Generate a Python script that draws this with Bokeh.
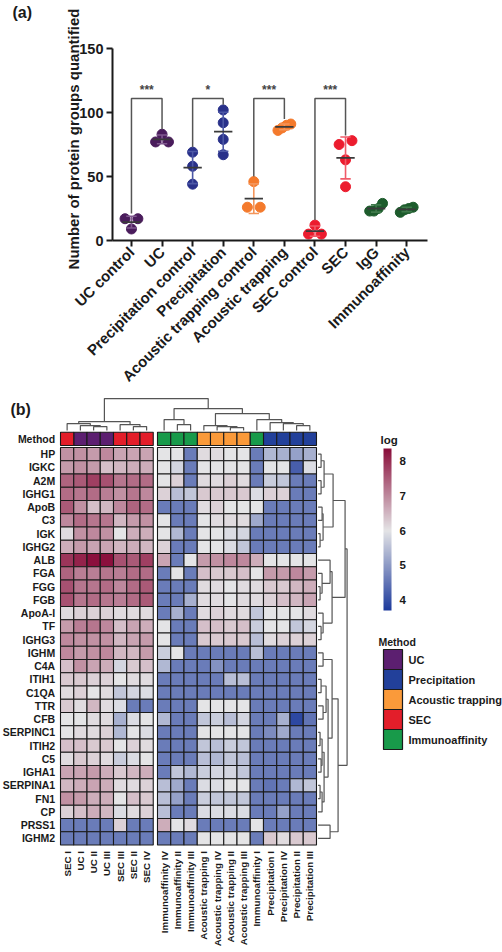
import math
import numpy as np
from bokeh.plotting import figure
from bokeh.models import Range1d, FixedTicker, ColumnDataSource, LinearColorMapper, ColorBar
from bokeh.embed import file_html
from bokeh.resources import INLINE
from bokeh.core.properties import value

FONT = "Liberation Sans"

# ---------------- Panel (a) data ----------------
groups = ["UC control", "UC", "Precipitation control", "Precipitation",
          "Acoustic trapping control", "Acoustic trapping", "SEC control", "SEC",
          "IgG", "Immunoaffinity"]
uc_control = [17, 17, 9]
uc = [83, 77, 77]
precip_control = [69, 58, 44]
precip = [102, 92, 79, 67]
at_control = [46, 26, 26]
at_trap = [91, 90, 88, 86]
sec_control = [12, 5, 5]
sec = [78, 75, 63, 42]
igg = [23, 25, 29, 23]
immuno = [22, 25, 26, 24]
group_values = [uc_control, uc, precip_control, precip, at_control, at_trap,
                sec_control, sec, igg, immuno]
dot_colors = ["#4a1c5c", "#4a1c5c", "#29318a", "#29318a", "#f47a2c", "#f47a2c",
              "#ec1c2e", "#ec1c2e", "#1d5c2c", "#1d5c2c"]
bar_colors = ["#80598f", "#80598f", "#4d58a6", "#4d58a6", "#f4955a", "#f4955a",
              "#f05a68", "#f05a68", "#3f7a4b", "#3f7a4b"]
comparisons = [(0, 1, "***"), (2, 3, "*"), (4, 5, "***"), (6, 7, "***")]
bracket_level = 111
y_ticks = [0, 50, 100, 150]
y_max = 150
y_title = "Number of protein groups quantified"

# ---------------- Panel (b) data ----------------
proteins = ["HP", "IGKC", "A2M", "IGHG1", "ApoB", "C3", "IGK", "IGHG2", "ALB", "FGA",
            "FGG", "FGB", "ApoA-I", "TF", "IGHG3", "IGHM", "C4A", "ITIH1", "C1QA", "TTR",
            "CFB", "SERPINC1", "ITIH2", "C5", "IGHA1", "SERPINA1", "FN1", "CP", "PRSS1", "IGHM2"]
samples_left = ["SEC I", "UC I", "UC II", "UC III", "SEC III", "SEC II", "SEC IV"]
samples_right = ["Immunoaffinity IV", "Immunoaffinity II", "Immunoaffinity III",
                 "Acoustic trapping I", "Acoustic trapping IV", "Acoustic trapping II",
                 "Acoustic trapping III", "Immunoaffinity I", "Precipitation I",
                 "Precipitation IV", "Precipitation II", "Precipitation III"]
methods_left = ["SEC", "UC", "UC", "UC", "SEC", "SEC", "SEC"]
methods_right = ["Immunoaffinity"] * 3 + ["Acoustic trapping"] * 4 + ["Immunoaffinity"] + ["Precipitation"] * 4
method_order = ["UC", "Precipitation", "Acoustic trapping", "SEC", "Immunoaffinity"]
method_colors = ["#5c1f70", "#22409a", "#fa9a3a", "#e31e2a", "#189a4a"]

log_left = [
    [6.9, 6.9, 6.8, 7.0, 6.7, 6.7, 6.7],
    [6.8, 6.9, 6.8, 6.4, 6.5, 6.6, 6.6],
    [7.4, 7.5, 7.8, 7.6, 7.2, 7.3, 7.3],
    [7.3, 7.2, 7.3, 7.1, 6.9, 7.2, 7.0],
    [7.5, 6.9, 6.4, 6.5, 7.0, 7.4, 7.3],
    [7.0, 7.3, 7.2, 7.2, 6.5, 6.8, 6.9],
    [6.1, 6.9, 7.0, 6.9, 6.0, 6.6, 6.6],
    [6.6, 6.8, 6.7, 6.7, 6.5, 6.6, 6.5],
    [7.9, 8.1, 8.3, 8.3, 7.6, 7.5, 7.8],
    [7.4, 7.1, 7.1, 7.2, 7.1, 7.3, 7.3],
    [7.6, 7.2, 7.2, 7.3, 7.0, 7.3, 7.5],
    [7.6, 7.2, 7.3, 7.2, 7.1, 7.3, 7.5],
    [6.1, 6.2, 6.2, 6.2, 6.1, 6.1, 6.1],
    [6.8, 7.1, 7.2, 7.0, 6.4, 6.7, 6.6],
    [7.0, 6.9, 6.9, 6.9, 6.5, 6.7, 6.8],
    [7.0, 6.8, 6.9, 7.0, 6.5, 6.5, 6.8],
    [6.4, 6.9, 6.7, 6.6, 5.8, 6.3, 6.4],
    [6.3, 6.3, 6.2, 6.2, 6.0, 6.1, 6.1],
    [6.1, 6.2, 6.0, 6.1, 5.6, 5.8, 5.9],
    [6.3, 6.1, 6.5, 6.1, 5.9, 4.6, 4.6],
    [6.0, 6.0, 6.1, 6.1, 5.3, 5.9, 6.0],
    [6.0, 6.1, 6.1, 6.2, 5.4, 6.0, 5.9],
    [6.4, 6.4, 6.3, 6.3, 6.0, 6.2, 6.1],
    [6.1, 6.3, 6.2, 6.1, 5.7, 5.9, 6.0],
    [6.7, 6.7, 6.8, 6.6, 6.3, 6.5, 6.6],
    [6.5, 6.6, 6.7, 6.6, 6.1, 6.1, 6.2],
    [6.9, 6.8, 6.6, 6.6, 6.0, 6.4, 6.3],
    [6.2, 6.4, 6.6, 6.5, 5.9, 6.1, 6.2],
    [4.6, 4.6, 4.6, 4.6, 6.2, 4.6, 4.6],
    [4.6, 4.6, 4.6, 4.6, 4.6, 4.6, 4.6],
]
log_right = [
    [6.0, 6.0, 4.6, 6.1, 6.1, 6.0, 6.0, 4.6, 5.4, 5.3, 5.1, 5.3],
    [6.0, 5.8, 4.6, 6.0, 6.0, 6.0, 6.0, 4.6, 6.0, 6.0, 4.2, 5.9],
    [6.0, 6.2, 4.6, 6.1, 6.1, 6.2, 6.1, 4.6, 5.7, 5.6, 4.6, 4.6],
    [6.2, 5.5, 5.6, 6.3, 6.3, 6.3, 6.3, 5.9, 6.2, 6.2, 4.6, 4.6],
    [4.6, 4.6, 4.6, 6.1, 6.2, 6.0, 6.0, 6.0, 4.6, 4.6, 4.6, 4.6],
    [6.0, 4.6, 4.6, 6.0, 6.1, 6.1, 6.1, 5.2, 4.6, 4.6, 4.6, 4.6],
    [6.0, 5.4, 4.6, 6.0, 6.0, 5.9, 5.8, 4.6, 4.6, 4.6, 4.6, 4.6],
    [6.2, 4.6, 4.6, 6.0, 6.0, 5.9, 5.6, 4.6, 4.6, 4.6, 4.6, 4.6],
    [6.7, 4.6, 6.0, 6.8, 6.9, 7.0, 7.0, 6.6, 6.0, 6.0, 6.0, 6.0],
    [4.6, 6.0, 4.6, 6.4, 6.3, 6.3, 6.4, 6.0, 6.8, 6.8, 7.0, 6.8],
    [4.6, 4.6, 4.6, 6.1, 6.1, 6.0, 6.1, 6.1, 6.3, 6.3, 6.5, 6.6],
    [4.6, 4.6, 5.3, 6.1, 6.1, 6.0, 6.1, 6.1, 6.2, 6.4, 6.5, 6.7],
    [4.6, 5.3, 4.6, 6.1, 6.2, 6.1, 6.1, 5.6, 6.0, 6.0, 6.0, 6.1],
    [6.0, 4.6, 4.6, 6.4, 6.4, 6.3, 6.4, 5.7, 6.0, 6.0, 5.6, 5.8],
    [6.0, 4.6, 4.6, 6.3, 6.3, 6.3, 6.3, 5.5, 6.1, 6.2, 6.2, 6.2],
    [5.7, 6.0, 4.6, 4.6, 4.6, 4.6, 4.6, 5.5, 4.6, 4.6, 4.6, 4.6],
    [5.4, 4.6, 4.6, 4.6, 4.9, 4.6, 4.6, 4.6, 4.6, 4.6, 4.6, 4.6],
    [4.6, 4.6, 4.6, 4.6, 4.6, 5.5, 5.5, 4.6, 4.6, 4.6, 4.6, 4.6],
    [4.6, 4.6, 4.6, 4.6, 4.6, 4.6, 4.6, 4.6, 4.6, 4.6, 4.6, 4.6],
    [4.6, 4.6, 4.6, 6.0, 6.0, 6.0, 6.0, 4.6, 4.6, 4.6, 4.6, 4.6],
    [5.4, 4.6, 4.6, 5.6, 5.7, 5.5, 5.8, 4.6, 4.6, 5.3, 3.9, 4.5],
    [4.6, 4.6, 4.6, 6.0, 6.0, 6.0, 6.0, 4.6, 4.8, 5.2, 4.6, 4.6],
    [4.6, 4.6, 4.6, 5.6, 5.5, 5.7, 5.6, 4.6, 4.6, 4.6, 4.6, 4.6],
    [4.6, 4.6, 4.6, 5.5, 5.4, 5.6, 5.5, 4.6, 4.6, 4.6, 4.6, 4.6],
    [4.6, 5.6, 5.4, 5.7, 5.8, 5.8, 5.6, 4.6, 4.6, 4.6, 4.6, 4.6],
    [5.5, 5.2, 4.6, 5.9, 5.9, 6.0, 6.0, 4.6, 4.5, 4.6, 5.4, 5.6],
    [5.5, 5.1, 4.6, 5.7, 5.6, 5.6, 5.6, 4.6, 4.6, 4.6, 4.6, 4.6],
    [5.5, 4.6, 4.6, 5.9, 5.9, 5.9, 5.9, 4.6, 4.6, 5.1, 4.6, 4.6],
    [6.6, 6.0, 6.1, 4.6, 4.6, 4.6, 4.6, 6.0, 4.6, 4.6, 4.6, 4.6],
    [4.6, 4.6, 4.6, 6.0, 6.0, 6.0, 6.0, 4.6, 6.3, 6.1, 6.3, 6.3],
]
colorbar_ticks = [4, 5, 6, 7, 8]
color_low, color_high = 3.71, 8.35

# dendrograms: (child a, child b, merge height); new nodes numbered after leaves
col_merges = [(2, 3, 4), (1, 19, 5), (0, 20, 7), (5, 6, 4), (4, 22, 6), (21, 23, 9),
              (8, 9, 6), (7, 25, 11), (12, 13, 3), (11, 27, 4), (10, 28, 5),
              (17, 18, 5), (16, 30, 7), (15, 31, 8), (14, 32, 11), (29, 33, 17),
              (26, 34, 22), (24, 35, 32)]
row_merges = [(0, 1, 3), (2, 3, 3), (30, 31, 6), (4, 5, 4), (6, 7, 2), (33, 34, 5),
              (32, 35, 15), (10, 11, 2), (9, 37, 4), (8, 38, 12), (13, 14, 3),
              (12, 40, 5), (39, 41, 14), (36, 42, 27), (15, 16, 5), (17, 18, 3),
              (19, 20, 5), (45, 46, 8), (21, 22, 2), (23, 24, 3), (48, 49, 4),
              (25, 26, 2), (51, 27, 4), (50, 52, 6), (47, 53, 10), (44, 54, 14),
              (28, 29, 12), (55, 56, 20), (43, 57, 29)]

W = 502
HA = 396
HB = 952 - HA

# ======================= Panel (a) =======================
AX_LEFT, AX_RIGHT, AX_TOP, AX_BOTTOM = 112, 427, 48, 240   # page pixels of the axes box
X_LO, X_HI = -0.62, 9.68
px_x = (AX_RIGHT - AX_LEFT) / (X_HI - X_LO)
px_y = (AX_BOTTOM - AX_TOP) / y_max
pa = figure(width=W, height=HA,
            x_range=Range1d(X_LO - AX_LEFT / px_x, X_HI + (W - AX_RIGHT) / px_x),
            y_range=Range1d(-(HA - AX_BOTTOM) / px_y, y_max + AX_TOP / px_y),
            output_backend="svg", toolbar_location=None, title_location=None,
            min_border=0)
pa.grid.visible = False
pa.outline_line_color = None


def swarm_offsets(vals, thresh=6.0, spread=0.42):
    vals = np.asarray(vals, dtype=float)
    order = np.argsort(vals, kind="stable")
    offs = np.zeros(len(vals))
    clusters, cur = [], [order[0]]
    for a, b in zip(order[:-1], order[1:]):
        if vals[b] - vals[a] < thresh:
            cur.append(b)
        else:
            clusters.append(cur)
            cur = [b]
    clusters.append(cur)
    for c in clusters:
        if len(c) > 1:
            for k, pos in zip(c, np.linspace(-spread / 2, spread / 2, len(c))):
                offs[k] = pos
    return offs


for i, vals in enumerate(group_values):
    offs = swarm_offsets(vals)
    pa.scatter(x=list(i + offs), y=vals, size=10, color=dot_colors[i], line_color=dot_colors[i])

for i, vals in enumerate(group_values):
    m = float(np.mean(vals))
    sd = float(np.std(vals, ddof=1))
    c = bar_colors[i]
    pa.segment(x0=[i], x1=[i], y0=[m - sd], y1=[m + sd], line_color=c, line_width=1.6)
    pa.segment(x0=[i - 0.17, i - 0.17], x1=[i + 0.17, i + 0.17], y0=[m - sd, m + sd],
               y1=[m - sd, m + sd], line_color=c, line_width=1.6)
    pa.segment(x0=[i - 0.3], x1=[i + 0.3], y0=[m], y1=[m], line_color="#3a3a3a", line_width=1.8)

bxs, bys, sx, sy, st = [], [], [], [], []
for a, b, stars in comparisons:
    la = max(group_values[a]) + 4
    lb = max(group_values[b]) + 4
    bxs.append([a, a, b, b])
    bys.append([la, bracket_level, bracket_level, lb])
    sx.append((a + b) / 2)
    sy.append(bracket_level + 1.5)
    st.append(stars)
pa.multi_line(xs=bxs, ys=bys, line_color="#555555", line_width=1.5)
pa.text(x=sx, y=sy, text=st, text_align="center", text_baseline="bottom",
        text_font=value(FONT), text_font_size="12px", text_font_style="bold", text_color="#444444")

tag = dict(text_font=value(FONT), text_font_style="bold", text_color="#1a1a1a")
# panel tag and y-axis title
pa.text(x=[X_LO - (AX_LEFT - 12) / px_x], y=[y_max + (AX_TOP - 11.5) / px_y], text=["(a)"],
        text_align="left", text_baseline="middle", text_font_size="16px", **tag)
pa.text(x=[X_LO - (AX_LEFT - 73) / px_x], y=[(AX_BOTTOM - 138.5) / px_y], text=[y_title],
        angle=math.pi / 2, text_align="center", text_baseline="middle",
        text_font_size="15px", **tag)

pa.yaxis.ticker = FixedTicker(ticks=y_ticks)
pa.yaxis.bounds = (0, y_max)
pa.yaxis.fixed_location = X_LO
pa.xaxis.bounds = (X_LO, X_HI)
pa.xaxis.fixed_location = 0
pa.xaxis.ticker = FixedTicker(ticks=list(range(len(groups))))
pa.xaxis.major_label_overrides = {i: g for i, g in enumerate(groups)}
pa.xaxis.major_label_orientation = math.pi / 4
for ax in (pa.xaxis, pa.yaxis):
    ax.axis_line_width = 2
    ax.axis_line_color = "#1a1a1a"
    ax.major_tick_line_width = 2
    ax.major_tick_line_color = "#1a1a1a"
    ax.major_tick_in = 0
    ax.major_tick_out = 6
    ax.minor_tick_line_color = None
    ax.major_label_text_font = FONT
    ax.major_label_text_font_style = "bold"
    ax.major_label_text_color = "#1a1a1a"
    ax.major_label_standoff = 3
pa.xaxis.major_label_text_font_size = "15px"
pa.yaxis.major_label_text_font_size = "14.5px"

# ======================= Panel (b) =======================
CELL = 13.25
GAP = 0.32
X0 = 60          # left edge of heatmap in page pixels
Y0 = 447 - HA    # top edge of first heatmap row within this figure
n_left, n_right = len(samples_left), len(samples_right)
n_rows = len(proteins)
pb = figure(width=W, height=HB,
            x_range=Range1d(-X0 / CELL, (W - X0) / CELL),
            y_range=Range1d((HB - Y0) / CELL, -Y0 / CELL),
            output_backend="svg", toolbar_location=None, title_location=None,
            x_axis_location=None, y_axis_location=None, min_border=0)
pb.grid.visible = False
pb.outline_line_color = None

col_x = [i + 0.5 for i in range(n_left)] + [n_left + GAP + j + 0.5 for j in range(n_right)]
samples = samples_left + samples_right
methods = methods_left + methods_right
values = [l + r for l, r in zip(log_left, log_right)]

# palette: blue -> light grey -> crimson
anchor_vals = [color_low, 6.0, color_high]
anchor_rgb = np.array([[0x1d, 0x3a, 0x9c], [0xe4, 0xe4, 0xe6], [0x8a, 0x0d, 0x3a]], dtype=float)
grid = np.linspace(color_low, color_high, 256)
palette = []
for g in grid:
    rgb = [int(round(np.interp(g, anchor_vals, anchor_rgb[:, k]))) for k in range(3)]
    palette.append("#%02x%02x%02x" % tuple(rgb))
mapper = LinearColorMapper(palette=palette, low=color_low, high=color_high)

hx, hy, hv = [], [], []
for r, row in enumerate(values):
    for c, v in enumerate(row):
        hx.append(col_x[c])
        hy.append(r + 0.5)
        hv.append(v)
src = ColumnDataSource(dict(x=hx, y=hy, v=hv))
pb.rect(x="x", y="y", width=1, height=1, source=src,
        fill_color={"field": "v", "transform": mapper}, line_color="#1a1a1a", line_width=1.1)

# annotation row
ANN_Y = -0.65
for mname, mcol in zip(method_order, method_colors):
    xs = [col_x[c] for c in range(len(methods)) if methods[c] == mname]
    pb.rect(x=xs, y=[ANN_Y] * len(xs), width=1, height=1, fill_color=mcol,
            line_color="#1a1a1a", line_width=1.1)

txt = dict(text_font=value(FONT), text_font_style="bold", text_color="#1a1a1a")
pb.text(x=[-0.4] * (n_rows + 1), y=[r + 0.5 for r in range(n_rows)] + [ANN_Y],
        text=proteins + ["Method"], text_align="right", text_baseline="middle",
        text_font_size="10.5px", **txt)
pb.text(x=col_x, y=[n_rows + 0.45] * len(col_x), text=samples, angle=math.pi / 2,
        text_align="right", text_baseline="middle", text_font_size="9.8px", **txt)


def dendro(merges, leaf_pos):
    pos = list(leaf_pos)
    hgt = [0.0] * len(leaf_pos)
    segs_p, segs_h = [], []
    for a, b, h in merges:
        segs_p.append([pos[a], pos[a], pos[b], pos[b]])
        segs_h.append([hgt[a], h, h, hgt[b]])
        pos.append((pos[a] + pos[b]) / 2)
        hgt.append(h)
    return segs_p, segs_h


cp, ch = dendro(col_merges, col_x)
col_base = -1.28
pb.multi_line(xs=cp, ys=[[col_base - h / CELL for h in hs] for hs in ch],
              line_color="#555555", line_width=1.2)
rp, rh = dendro(row_merges, [r + 0.5 for r in range(n_rows)])
row_base = n_left + GAP + n_right + 0.12
pb.multi_line(xs=[[row_base + h / CELL for h in hs] for hs in rh], ys=rp,
              line_color="#555555", line_width=1.2)

# colour bar (bar + tick labels from the mapper; its title drawn as text)
cb = ColorBar(color_mapper=mapper, ticker=FixedTicker(ticks=colorbar_ticks),
              location=(383, HB - (610 - HA)), width=8, height=162, padding=0,
              major_label_text_font=FONT, major_label_text_font_style="bold",
              major_label_text_font_size="11.5px", major_label_text_color="#1a1a1a",
              label_standoff=8, major_tick_line_color=None, bar_line_color=None,
              border_line_color=None, background_fill_alpha=0)
pb.add_layout(cb)
pb.text(x=[(380 - X0) / CELL], y=[(439 - 447) / CELL], text=["log"], text_align="left",
        text_baseline="middle", text_font_size="11.5px", **txt)

# method legend
LEG_X = (392.5 - X0) / CELL
LEG_TOP = (649 - 447) / CELL
BOX_W, BOX_H = 19 / CELL, 20 / CELL
ly = [LEG_TOP + (k + 0.5) * BOX_H for k in range(len(method_order))]
pb.rect(x=[LEG_X] * len(ly), y=ly, width=BOX_W, height=BOX_H, fill_color=method_colors,
        line_color="#1a1a1a", line_width=1.2)
pb.text(x=[LEG_X + BOX_W / 2 + 6 / CELL] * len(ly), y=ly, text=method_order,
        text_align="left", text_baseline="middle", text_font_size="11px", **txt)
pb.text(x=[LEG_X - BOX_W / 2 - 5 / CELL], y=[LEG_TOP - 0.55], text=["Method"],
        text_align="left", text_baseline="middle", text_font_size="10.5px", **txt)

pb.text(x=[(10 - X0) / CELL], y=[(400 - 447) / CELL], text=["(b)"], text_align="left",
        text_baseline="top", text_font_size="16px", **txt)

open("out.html", "w").write(file_html([pa, pb], INLINE))
